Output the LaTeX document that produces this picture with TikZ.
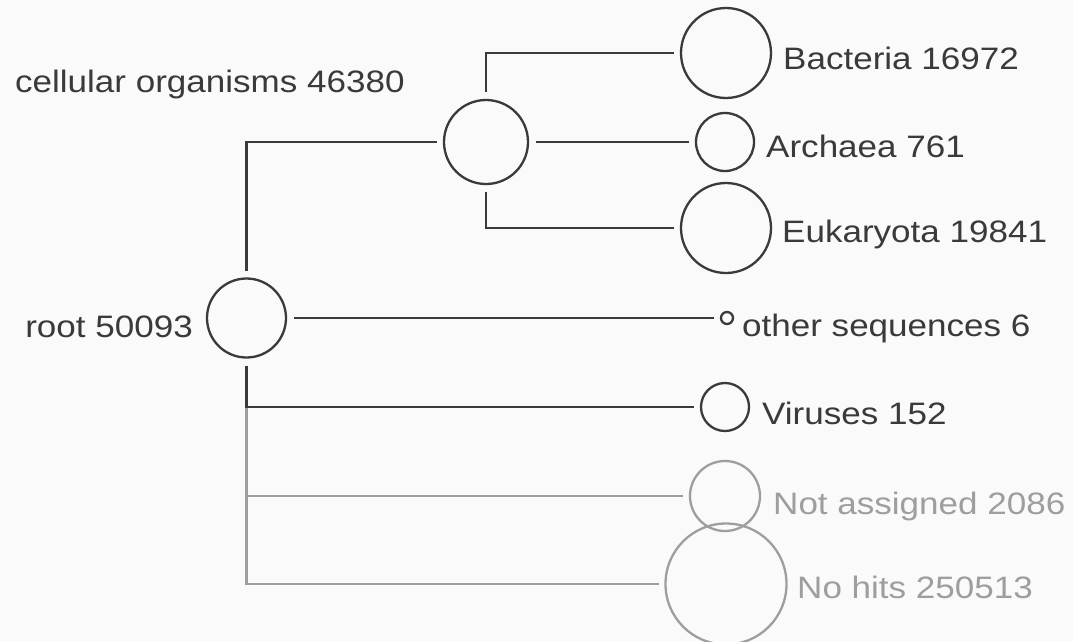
\documentclass[tikz,border=0pt]{standalone}
\usepackage{fontspec}
\setmainfont{Liberation Sans}[FakeStretch=1.13]
\definecolor{ink}{RGB}{58,58,58}
\definecolor{faint}{RGB}{158,158,158}
\definecolor{bg}{RGB}{250,250,250}
\begin{document}
\begin{tikzpicture}[x=1pt,y=-1pt,
  tx/.style={font=\fontsize{31}{36}\selectfont, text=ink, inner sep=0pt, anchor=base west},
  txg/.style={tx, text=faint},
  bub/.style={circle, draw=ink, line width=2.3pt, minimum size=#1, inner sep=0pt, outer sep=0pt},
  bubg/.style={bub=#1, draw=faint},
  link/.style={draw=ink, line width=2.3pt, shorten <=8pt, shorten >=7pt},
  linkg/.style={link, draw=faint}]
\fill[bg] (0,0) rectangle (1073,641);
\useasboundingbox (0,0) rectangle (1073,641);
\clip (0,0) rectangle (1073,641);

% circles
\node[bub=79pt] (root) at (246.5,318) {};
\node[bub=84pt] (cell) at (486,142) {};
\node[bub=90pt] (bact) at (726,53) {};
\node[bub=58pt] (arch) at (725,142) {};
\node[bub=90pt] (euk) at (726,228) {};
\node[bub=12pt] (oth) at (727,318) {};
\node[bub=48pt] (vir) at (725,407) {};
\node[bubg=70pt] (na) at (725,496) {};
\node[bubg=121pt] (nh) at (726,584) {};

% labels
\node[tx, anchor=base east] (lroot) at (193,337) {root 50093};
\node[tx] (lcell) at (15,92) {cellular organisms 46380};
\node[tx] (lbact) at (783,69) {Bacteria 16972};
\node[tx] (larch) at (766,157) {Archaea 761};
\node[tx] (leuk) at (782,242) {Eukaryota 19841};
\node[tx] (loth) at (742,336) {other sequences 6};
\node[tx] (lvir) at (762,424) {Viruses 152};
\node[txg] (lna) at (773,514) {Not assigned 2086};
\node[txg] (lnh) at (797,598) {No hits 250513};

% connectors
\draw[linkg] (root.south) |- (na.west);
\draw[linkg] (root.south) |- (nh.west);
\draw[link] (root.south) |- (vir.west);
\draw[link] (root.north) |- (cell.west);
\draw[link] (root.east) -- (oth.west);
\draw[link] (cell.north) |- (bact.west);
\draw[link] (cell.east) -- (arch.west);
\draw[link] (cell.south) |- (euk.west);
\end{tikzpicture}
\end{document}
